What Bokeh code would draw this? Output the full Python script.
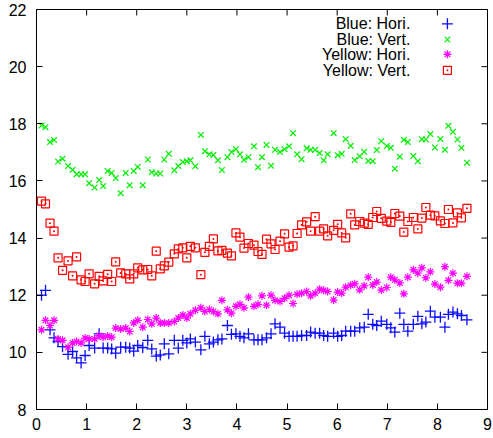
from bokeh.plotting import figure
from bokeh.models import FixedTicker, Range1d, Label
from bokeh.embed import file_html
from bokeh.resources import INLINE

# ---- data ----
x = [0.10, 0.18, 0.27, 0.35, 0.43, 0.52, 0.63, 0.72, 0.80, 0.89,
     0.97, 1.05, 1.16, 1.25, 1.33, 1.42, 1.50, 1.58, 1.68, 1.78,
     1.86, 1.94, 2.02, 2.12, 2.22, 2.30, 2.39, 2.47, 2.55, 2.64,
     2.75, 2.83, 2.92, 3.00, 3.07, 3.17, 3.28, 3.36, 3.45, 3.53,
     3.62, 3.70, 3.81, 3.89, 3.98, 4.06, 4.14, 4.23, 4.34, 4.42,
     4.50, 4.59, 4.68, 4.76, 4.86, 4.95, 5.04, 5.12, 5.20, 5.29,
     5.39, 5.47, 5.56, 5.65, 5.73, 5.81, 5.93, 6.01, 6.09, 6.17,
     6.27, 6.35, 6.45, 6.54, 6.62, 6.71, 6.79, 6.88, 6.99, 7.07,
     7.15, 7.25, 7.33, 7.41, 7.52, 7.61, 7.69, 7.77, 7.86, 7.95,
     8.06, 8.15, 8.22, 8.31, 8.40, 8.48, 8.59]

blue_hori = [12.00, 12.17, 10.79, 10.51, 10.38, 10.20, 9.93, 10.03, 9.81, 9.63,
             9.89, 10.24, 10.15, 10.65, 10.15, 10.15, 10.12, 9.97, 10.18, 10.18,
             10.15, 10.04, 10.24, 10.17, 10.42, 10.12, 9.87, 9.91, 10.30, 9.95,
             10.42, 10.15, 10.42, 10.33, 10.47,
             10.36, 10.09, 10.56, 10.30, 10.36, 10.44, 10.47, 10.94, 10.63, 10.65,
             10.56, 10.51, 10.65, 10.44, 10.44, 10.44, 10.51, 10.65, 11.00, 10.88,
             10.67, 10.56, 10.56, 10.56, 10.59, 10.59, 10.71, 10.67, 10.67, 10.59,
             10.56, 10.67, 10.56,
             10.59, 10.74, 10.74, 10.74, 10.86, 10.88, 11.33, 10.98, 10.94, 11.09,
             10.98, 10.86, 10.71, 11.37, 10.98, 10.74, 10.98, 11.26, 11.00, 11.06,
             11.44, 11.23, 11.23, 10.88, 11.33, 11.41, 11.35, 11.29, 11.14]

blue_vert = [17.94, 17.88, 17.36, 17.43, 16.68, 16.78,
             16.52, 16.39, 16.23, 16.23, 16.23, 15.92, 15.77, 16.03, 15.82, 16.35,
             16.28, 16.10, 15.57, 16.28, 15.85, 16.35, 16.49, 15.85, 16.75, 16.30,
             16.26, 16.26, 16.75, 16.95, 16.37, 16.52, 16.66, 16.69, 16.72,
             16.51, 17.61, 17.04, 16.93, 16.91, 16.72, 16.38, 16.83, 17.01, 17.11,
             16.93, 16.74, 16.83, 17.21, 16.48, 16.83, 17.26, 16.53, 17.09, 17.01,
             17.11, 17.21, 17.67, 16.93, 16.76, 17.14, 17.09, 17.09, 16.98, 16.72,
             16.93, 17.67, 16.90,
             16.95, 17.46, 17.23, 16.73, 16.86, 17.02, 16.70, 16.69, 17.08, 17.39,
             17.22, 17.16, 16.43, 16.85, 17.44, 17.36, 16.87, 16.69, 17.46, 17.45,
             17.64, 17.17, 17.47, 17.09, 17.93, 17.72, 17.45, 17.16, 16.64]

yellow_hori = [10.79, 11.12, 10.94, 11.12, 10.47, 10.42, 10.18, 10.33, 10.38, 10.33,
               10.50, 10.47, 10.47, 10.59, 10.53, 10.57, 10.53, 10.85, 10.82, 10.85,
               10.73, 11.03, 11.12, 10.88, 11.15, 11.00, 11.20, 11.03, 11.03, 11.03,
               11.08, 11.20, 11.31, 11.20, 11.35,
               11.47, 11.56, 11.43, 11.50, 11.43, 11.35, 11.82, 11.49, 11.37, 11.61,
               11.68, 11.56, 11.93, 11.61, 11.68, 11.98, 11.65, 12.00, 11.82, 11.78,
               11.89, 12.00, 11.71, 12.03, 12.07, 12.13, 11.98, 12.07, 12.21, 12.17,
               12.13, 11.83, 12.11,
               12.07, 12.28, 12.35, 12.40, 12.19, 12.33, 12.63, 12.36, 12.46, 12.18,
               12.27, 12.63, 12.54, 12.43, 12.05, 12.63, 12.89, 12.77, 12.96, 12.61,
               12.82, 12.39, 12.28, 13.00, 12.52, 12.77, 12.42, 12.42, 12.66]

yellow_vert = [15.29, 15.20, 14.52, 14.24, 13.31, 12.87, 13.20, 12.68, 13.34, 12.54,
               12.48, 12.75, 12.40, 12.66, 12.50, 12.73, 12.48, 13.17, 12.78, 12.75,
               12.57, 12.75, 12.96, 12.89, 12.90, 12.68, 13.54, 12.92, 13.03, 13.16,
               13.45, 13.62, 13.66, 13.31, 13.71,
               13.66, 12.72, 13.50, 13.71, 13.97, 13.55, 13.57, 13.47, 13.38, 14.18,
               14.03, 13.65, 13.81, 13.75, 13.53, 13.43, 13.96, 13.80, 13.60, 13.89,
               14.15, 13.68, 13.73, 14.16, 14.46, 14.57, 14.24, 14.75, 14.24, 14.32,
               14.08, 14.27, 14.48,
               14.18, 14.01, 14.85, 14.46, 14.58, 14.52, 14.48, 14.72, 14.93, 14.69,
               14.59, 14.55, 14.86, 14.77, 14.21, 14.58, 14.72, 14.32, 14.70, 15.07,
               14.80, 14.78, 14.60, 14.51, 15.00, 14.53, 14.88, 14.71, 15.04]

series_labels = ["Blue: Hori.", "Blue: Vert.", "Yellow: Hori.", "Yellow: Vert."]
x_ticks = [0, 1, 2, 3, 4, 5, 6, 7, 8, 9]
y_ticks = [8, 10, 12, 14, 16, 18, 20, 22]

# ---- styling ----
FONT = "Liberation Sans"
FONT_SIZE = "16px"
styles = [
    dict(marker="cross", size=11, line_color="#0a0aff", line_width=1.3),
    dict(marker="x", size=8, line_color="#00ee00", line_width=1.2),
    dict(marker="asterisk", size=8, line_color="#ff00ff", line_width=1.2),
    dict(marker="square_dot", size=8, line_color="#ff0000", fill_color=None, line_width=1.2),
]
LEGEND_TEXT_X = 7.46
LEGEND_SYM_X = 8.20
LEGEND_Y = [21.50, 20.95, 20.43, 19.87]
TICK_LEN_X = 0.12   # mirrored tick length on the right side, in x units (~6 px)
TICK_LEN_Y = 0.21   # mirrored tick length on the top side, in y units (~6 px)

X0, X1, Y0, Y1 = 0, 9, 8, 22
p = figure(width=493, height=438, x_range=Range1d(X0, X1), y_range=Range1d(Y0, Y1),
           output_backend="svg", toolbar_location=None,
           min_border_left=36, min_border_right=6, min_border_top=9, min_border_bottom=29)
p.grid.visible = False
p.outline_line_color = "black"
p.outline_line_width = 1
p.background_fill_color = "white"
p.border_fill_color = "white"

for ax, ticks in ((p.xaxis[0], x_ticks), (p.yaxis[0], y_ticks)):
    ax.ticker = FixedTicker(ticks=ticks)
    ax.major_tick_in = 6
    ax.major_tick_out = 0
    ax.minor_tick_line_color = None
    ax.axis_line_color = "black"
    ax.major_tick_line_color = "black"
    ax.major_label_text_font = FONT
    ax.major_label_text_font_size = FONT_SIZE
    ax.major_label_text_color = "black"
p.xaxis[0].major_label_standoff = 8
p.yaxis[0].major_label_standoff = 10

# mirrored inward ticks on top and right (gnuplot style)
p.segment(x0=x_ticks, y0=[Y1] * len(x_ticks), x1=x_ticks, y1=[Y1 - TICK_LEN_Y] * len(x_ticks),
          line_color="black", line_width=1)
p.segment(x0=[X1] * len(y_ticks), y0=y_ticks, x1=[X1 - TICK_LEN_X] * len(y_ticks), y1=y_ticks,
          line_color="black", line_width=1)

all_series = [blue_hori, blue_vert, yellow_hori, yellow_vert]
for ys, st in zip(all_series, styles):
    p.scatter(x, ys, **st)

# legend (gnuplot style: right-aligned text, symbol to the right)
for lab, ly, st in zip(series_labels, LEGEND_Y, styles):
    p.add_layout(Label(x=LEGEND_TEXT_X, y=ly, text=lab, text_align="right",
                       text_baseline="middle", text_font=FONT, text_font_size=FONT_SIZE,
                       text_color="black"))
    p.scatter([LEGEND_SYM_X], [ly], **st)

open("out.html", "w").write(file_html(p, INLINE))
